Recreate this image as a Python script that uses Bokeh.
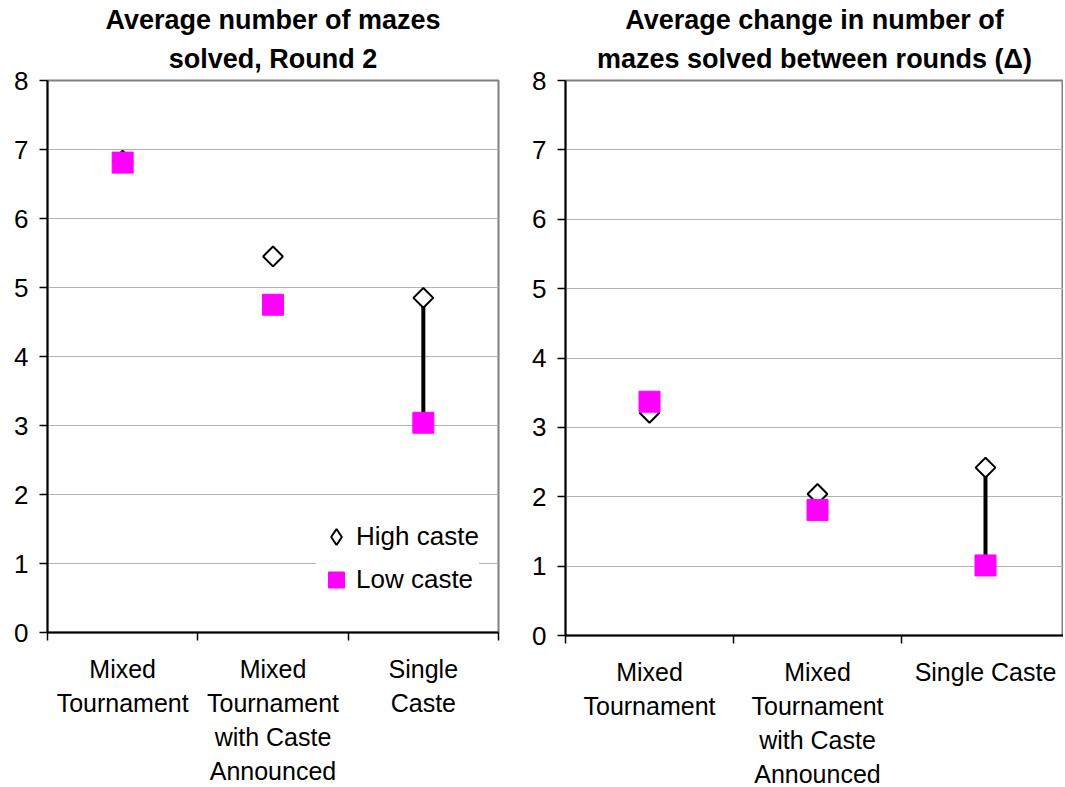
import math
from bokeh.plotting import figure
from bokeh.layouts import row
from bokeh.models import FixedTicker, Legend, LegendItem, ColumnDataSource, Title
from bokeh.embed import file_html
from bokeh.resources import INLINE

# ---- data ----
categories_round2 = ["Mixed\nTournament", "Mixed\nTournament\nwith Caste\nAnnounced", "Single\nCaste"]
categories_delta = ["Mixed\nTournament", "Mixed\nTournament\nwith Caste\nAnnounced", "Single Caste"]
round2_high = [6.84, 5.45, 4.85]
round2_low = [6.81, 4.75, 3.04]
delta_high = [3.21, 2.04, 2.42]
delta_low = [3.37, 1.81, 1.01]
significant = [False, False, True]
y_ticks = [0, 1, 2, 3, 4, 5, 6, 7, 8]
title_round2 = ["Average number of mazes", "solved, Round 2"]
title_delta = ["Average change in number of", "mazes solved between rounds (\u0394)"]
series_names = ["High caste", "Low caste"]

FONT = "Liberation Sans"


def make_panel(title_lines, cats, high, low, sig, frame_w, frame_h, b_left, b_right, x_end,
               with_legend=False):
    n = len(cats)
    xs = [i + 0.5 for i in range(n)]
    src = ColumnDataSource(dict(x=xs, high=high, low=low))
    p = figure(output_backend="svg", toolbar_location=None, title=None,
               frame_width=frame_w, frame_height=frame_h,
               x_range=(0, x_end), y_range=(0, 8),
               min_border_left=b_left, min_border_right=b_right,
               min_border_top=80, min_border_bottom=100)
    p.background_fill_color = "white"
    p.border_fill_color = "white"
    p.outline_line_color = "#808080"
    p.outline_line_width = 2

    # titles: inner line first (closest to the plot), then outer line
    for line, standoff in ((title_lines[1], 14), (title_lines[0], 0)):
        t = Title(text=line, align="center", text_font=FONT, text_font_size="27px",
                  text_font_style="bold", text_color="black", standoff=standoff)
        p.add_layout(t, "above")

    # x axis
    xa = p.xaxis[0]
    xa.ticker = FixedTicker(ticks=xs, minor_ticks=list(range(n + 1)))
    xa.major_label_overrides = {x: c for x, c in zip(xs, cats)}
    xa.major_tick_line_color = None
    xa.minor_tick_line_color = "black"
    xa.minor_tick_line_width = 1.5
    xa.minor_tick_out = 8
    xa.minor_tick_in = 0
    xa.axis_line_color = "black"
    xa.axis_line_width = 2
    xa.major_label_text_font = FONT
    xa.major_label_text_font_size = "25px"
    xa.major_label_text_color = "black"
    xa.major_label_text_line_height = 1.22
    xa.major_label_standoff = 14

    # y axis
    ya = p.yaxis[0]
    ya.ticker = FixedTicker(ticks=y_ticks)
    ya.major_tick_out = 8
    ya.major_tick_in = 0
    ya.major_tick_line_color = "black"
    ya.major_tick_line_width = 1.5
    ya.minor_tick_line_color = None
    ya.axis_line_color = "black"
    ya.axis_line_width = 2
    ya.major_label_text_font = FONT
    ya.major_label_text_font_size = "26px"
    ya.major_label_text_color = "black"
    ya.major_label_standoff = 11

    p.xgrid.visible = False
    p.ygrid.ticker = FixedTicker(ticks=y_ticks)
    p.ygrid.grid_line_color = "#b3b3b3"
    p.ygrid.grid_line_width = 1

    # connecting line for significant differences
    sx = [x for x, s in zip(xs, sig) if s]
    sh = [h for h, s in zip(high, sig) if s]
    sl = [l for l, s in zip(low, sig) if s]
    p.segment(x0=sx, y0=sh, x1=sx, y1=sl, line_color="black", line_width=4)

    p.scatter("x", "high", source=src, marker="square", angle=math.pi / 4,
              size=14, fill_color="white", line_color="black", line_width=2)
    r_low = p.scatter("x", "low", source=src, marker="square", size=21,
                      fill_color="#ff00ff", line_color="#ff00ff", line_width=1)

    if with_legend:
        # hidden legend proxy for the diamond symbol (legend glyphs ignore marker angle)
        proxy_high = p.scatter("x", "high", source=src, marker="diamond",
                               fill_color="white", line_color="black", line_width=2)
        proxy_high.visible = False
        legend = Legend(items=[LegendItem(label=series_names[0], renderers=[proxy_high]),
                               LegendItem(label=series_names[1], renderers=[r_low])],
                        location=(269, 31), click_policy="none")
        legend.background_fill_color = "white"
        legend.background_fill_alpha = 1.0
        legend.border_line_color = None
        legend.padding = 0
        legend.spacing = 0
        legend.margin = 0
        legend.glyph_width = 40
        legend.glyph_height = 43
        legend.label_height = 43
        legend.label_standoff = 0
        legend.label_text_font = FONT
        legend.label_text_font_size = "26px"
        legend.label_text_color = "black"
        p.add_layout(legend)
    return p


left = make_panel(title_round2, categories_round2, round2_high, round2_low, significant,
                  451, 552, 47, 22, 3, with_legend=True)
right = make_panel(title_delta, categories_delta, delta_high, delta_low, significant,
                   498, 555, 45, 0, 498 / 168.0)

layout = row(left, right)
open("out.html", "w").write(file_html(layout, INLINE))
